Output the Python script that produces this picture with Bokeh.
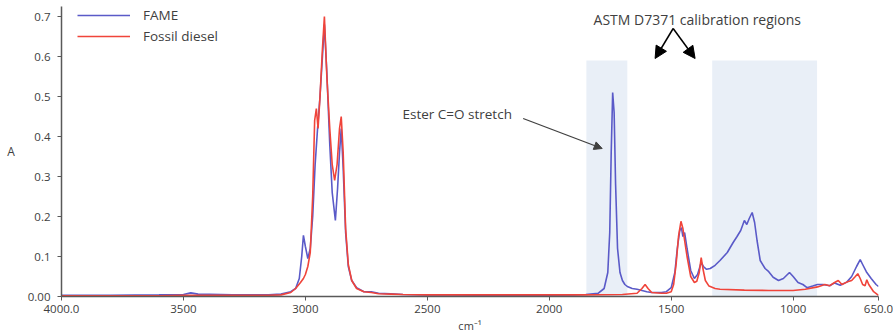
from bokeh.plotting import figure
from bokeh.models import (Range1d, FixedTicker, Legend, LegendItem, Label, Arrow,
                          NormalHead)
from bokeh.embed import file_html
from bokeh.resources import INLINE

# ---------------- data ----------------
fame_wn = [4000, 3800, 3600, 3500, 3470, 3440, 3300, 3150, 3100, 3060, 3040, 3025, 3015, 3008,
           3000, 2990, 2980, 2970, 2960, 2950, 2940, 2930, 2922, 2912, 2900, 2890, 2877, 2868,
           2860, 2853, 2845, 2835, 2824, 2810, 2790, 2760, 2730, 2700, 2650, 2600, 2500, 2400,
           2300, 2200, 2100, 2000, 1900, 1850, 1800, 1775, 1760, 1752, 1746, 1740, 1734, 1728,
           1720, 1710, 1700, 1690, 1680, 1660, 1640, 1620, 1600, 1580, 1560, 1540, 1520, 1500,
           1485, 1475, 1465, 1458, 1452, 1445, 1435, 1420, 1405, 1392, 1377, 1368, 1355, 1340,
           1320, 1300, 1270, 1246, 1230, 1215, 1200, 1190, 1180, 1168, 1158, 1148, 1135, 1115,
           1100, 1082, 1060, 1040, 1015, 1000, 980, 960, 943, 920, 900, 877, 850, 830, 807,
           780, 760, 740, 725, 715, 700, 680, 660, 650]
fame_abs = [0.003, 0.003, 0.004, 0.005, 0.009, 0.006, 0.004, 0.004, 0.006, 0.012, 0.02, 0.045, 0.10, 0.153,
            0.125, 0.095, 0.12, 0.2, 0.33, 0.42, 0.5, 0.6, 0.68, 0.56, 0.38, 0.26, 0.19, 0.27,
            0.36, 0.42, 0.32, 0.16, 0.075, 0.04, 0.022, 0.012, 0.012, 0.008, 0.007, 0.005, 0.004, 0.004,
            0.003, 0.003, 0.003, 0.003, 0.004, 0.005, 0.008, 0.02, 0.06, 0.16, 0.36, 0.51, 0.46, 0.28,
            0.12, 0.06, 0.04, 0.03, 0.025, 0.02, 0.018, 0.015, 0.012, 0.01, 0.01, 0.01, 0.012, 0.022,
            0.06, 0.12, 0.165, 0.172, 0.15, 0.16, 0.12, 0.065, 0.045, 0.055, 0.085, 0.075, 0.068, 0.07,
            0.078, 0.09, 0.11, 0.135, 0.15, 0.165, 0.19, 0.18, 0.195, 0.21, 0.185, 0.14, 0.09, 0.07,
            0.062, 0.048, 0.04, 0.045, 0.06, 0.05, 0.035, 0.03, 0.022, 0.026, 0.03, 0.03, 0.027, 0.034, 0.028,
            0.036, 0.05, 0.075, 0.092, 0.08, 0.062, 0.045, 0.03, 0.025]

diesel_wn = [4000, 3800, 3600, 3500, 3300, 3150, 3100, 3060, 3040, 3020, 3008, 3000, 2990, 2980,
             2970, 2962, 2955, 2948, 2940, 2930, 2922, 2912, 2900, 2890, 2880, 2870, 2860, 2853,
             2845, 2835, 2824, 2810, 2790, 2760, 2730, 2700, 2650, 2600, 2500, 2400, 2300, 2200,
             2100, 2000, 1900, 1850, 1700, 1640, 1620, 1607, 1595, 1580, 1540, 1520, 1500, 1490,
             1480, 1470, 1460, 1452, 1445, 1435, 1420, 1405, 1395, 1385, 1377, 1370, 1360, 1345,
             1320, 1300, 1200, 1100, 1000, 950, 900, 870, 850, 830, 815, 800, 780, 760, 745, 735,
             725, 715, 705, 698, 690, 670, 650]
diesel_abs = [0.002, 0.002, 0.002, 0.003, 0.003, 0.003, 0.004, 0.01, 0.02, 0.035, 0.045, 0.055, 0.075, 0.11,
              0.25, 0.44, 0.47, 0.42, 0.5, 0.62, 0.70, 0.55, 0.42, 0.33, 0.29, 0.33, 0.42, 0.45,
              0.36, 0.17, 0.08, 0.04, 0.02, 0.012, 0.01, 0.007, 0.006, 0.005, 0.004, 0.004, 0.004, 0.004,
              0.004, 0.004, 0.004, 0.004, 0.005, 0.008, 0.02, 0.03, 0.02, 0.01, 0.008, 0.008, 0.012, 0.03,
              0.08, 0.15, 0.188, 0.17, 0.14, 0.1, 0.05, 0.035, 0.038, 0.06, 0.097, 0.07, 0.04, 0.026,
              0.02, 0.018, 0.016, 0.015, 0.015, 0.018, 0.024, 0.03, 0.027, 0.035, 0.04, 0.03, 0.036, 0.04, 0.05, 0.057,
              0.045, 0.03, 0.027, 0.042, 0.03, 0.012, 0.003]

# calibration regions (wavenumber start/end, height)
region_left = [1848, 1332]
region_right = [1680, 902]
region_top = [0.59, 0.59]

x_ticks = [4000, 3500, 3000, 2500, 2000, 1500, 1000, 650]
y_ticks = [0.0, 0.1, 0.2, 0.3, 0.4, 0.5, 0.6, 0.7]
series_names = ["FAME", "Fossil diesel"]

FONT = "Open Sans"
TXT = "#404040"

p = figure(width=893, height=332, output_backend="svg", toolbar_location=None,
           x_range=Range1d(4000, 650), y_range=Range1d(0, 0.725),
           min_border_left=61, min_border_right=15, min_border_top=6, min_border_bottom=20)
p.frame_width = 817
p.frame_height = 290
p.outline_line_color = None
p.xgrid.visible = False
p.ygrid.visible = False
p.background_fill_color = "white"

p.quad(left=region_left, right=region_right, bottom=[0, 0], top=region_top,
       fill_color="#dbe5f1", fill_alpha=0.6, line_color=None)

r_fame = p.line(fame_wn, fame_abs, line_color="#5a5ac8", line_width=1.6)
r_diesel = p.line(diesel_wn, diesel_abs, line_color="#f0443a", line_width=1.6)

for ax in (p.xaxis[0], p.yaxis[0]):
    ax.axis_line_color = "#595959"
    ax.axis_line_width = 1.5
    ax.major_tick_line_color = "#595959"
    ax.major_tick_out = 4
    ax.major_tick_in = 0
    ax.minor_tick_line_color = None
    ax.major_label_text_font = FONT
    ax.major_label_text_font_size = "11.5px"
    ax.major_label_text_color = TXT

p.xaxis.ticker = FixedTicker(ticks=x_ticks)
p.xaxis.major_label_overrides = {4000: "4000.0", 650: "650.0"}
p.yaxis.ticker = FixedTicker(ticks=y_ticks)
p.yaxis.major_label_overrides = {0: "0.00"}
p.yaxis.major_label_standoff = 7
p.xaxis.axis_label = "cm\u207b\u00b9"
p.xaxis.axis_label_text_font = FONT
p.xaxis.axis_label_text_font_size = "11px"
p.xaxis.axis_label_text_font_style = "normal"
p.xaxis.axis_label_text_color = TXT
p.xaxis.axis_label_standoff = 2
p.xaxis.major_label_standoff = 4

yax = p.yaxis[0]
yax.axis_label = "A"
yax.axis_label_text_font = FONT
yax.axis_label_text_font_size = "12px"
yax.axis_label_text_font_style = "normal"
yax.axis_label_text_color = TXT
yax.axis_label_standoff = 10
if "axis_label_orientation" in yax.properties():
    yax.axis_label_orientation = "horizontal"

legend = Legend(items=[LegendItem(label=series_names[0], renderers=[r_fame]),
                       LegendItem(label=series_names[1], renderers=[r_diesel])],
                location=(16, 250), orientation="vertical",
                border_line_color=None, background_fill_alpha=0,
                padding=0, margin=0, spacing=1, glyph_width=53, glyph_height=20,
                label_height=20, label_standoff=13,
                label_text_font=FONT, label_text_font_size="13.5px", label_text_color=TXT)
p.add_layout(legend)

# annotations
p.add_layout(Label(x=1393, y=0.6925, text="ASTM D7371 calibration regions", text_font=FONT,
                   text_font_size="14px", text_color=TXT, text_align="center",
                   text_baseline="middle"))
p.add_layout(Label(x=2602, y=0.4575, text="Ester C=O stretch", text_font=FONT,
                   text_font_size="13.5px", text_color=TXT, text_align="left",
                   text_baseline="middle"))
for xe, ye in [(1566, 0.595), (1402, 0.595)]:
    p.add_layout(Arrow(end=NormalHead(size=12, fill_color="black", line_color="black"),
                       x_start=1492, y_start=0.67, x_end=xe, y_end=ye,
                       line_color="black", line_width=1.5))
p.add_layout(Arrow(end=NormalHead(size=8, fill_color="#404040", line_color="#404040"),
                   x_start=2107, y_start=0.445, x_end=1783, y_end=0.37,
                   line_color="#404040", line_width=1.3))

open("out.html", "w").write(file_html(p, INLINE))
